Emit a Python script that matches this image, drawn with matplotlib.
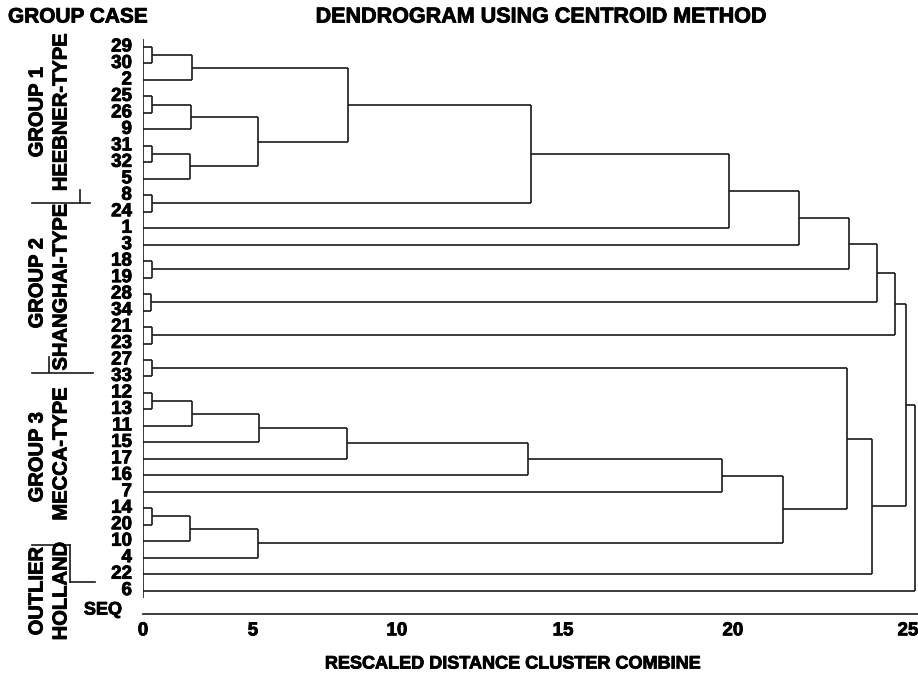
import matplotlib
matplotlib.use("Agg")
import matplotlib.pyplot as plt
import matplotlib.patheffects as pe
from matplotlib.lines import Line2D

plt.rcParams['font.family'] = ['Liberation Sans', 'DejaVu Sans']
plt.rcParams['font.weight'] = 'bold'

# case order, top to bottom
cases = ['29', '30', '2', '25', '26', '9', '31', '32', '5', '8', '24', '1', '3',
         '18', '19', '28', '34', '21', '23', '27', '33', '12', '13', '11', '15',
         '17', '16', '7', '14', '20', '10', '4', '22', '6']

# merges: (left node, right node, rescaled distance); new nodes are m0, m1, ...
merge_left = ['29', 'm0', '25', 'm2', '31', 'm4', 'm3', 'm1', '8', 'm7', 'm9',
              'm10', '18', 'm11', '28', 'm13', '21', 'm15', '27', '12', 'm19',
              'm20', 'm21', 'm22', 'm23', '14', 'm25', 'm26', 'm24', 'm18',
              'm29', 'm17', 'm31']
merge_right = ['30', '2', '26', '9', '32', '5', 'm5', 'm6', '24', 'm8', '1',
               '3', '19', 'm12', '34', 'm14', '23', 'm16', '33', '13', '11',
               '15', '17', '16', '7', '20', '10', '4', 'm27', 'm28', '22',
               'm30', '6']
merge_dist = [0.28, 1.59, 0.28, 1.55, 0.28, 1.52, 3.72, 6.64, 0.28, 12.56,
              18.98, 21.24, 0.30, 22.86, 0.26, 23.77, 0.30, 24.35, 0.30, 0.30,
              1.59, 3.76, 6.61, 12.47, 18.75, 0.28, 1.52, 3.72, 20.73, 22.80,
              23.61, 24.71, 25.0]

tick_labels = ['0', '5', '10', '15', '20', '25']
tick_pos = [0, 3.56, 8.22, 13.6, 19.1, 24.77]

W, H = 918, 673
fig = plt.figure(figsize=(W / 100, H / 100), dpi=100)

# heavier text, like the original print
heavy = [pe.withStroke(linewidth=0.6, foreground='black')]


def fx(px):
    return px / W


def fy(py):
    return 1 - py / H


ax = fig.add_axes([fx(143), fy(614), fx(918) - fx(143), fy(37) - fy(614)])
ax.set_xlim(0, 775 / 30.88)
ax.set_ylim(34.42, -0.607)

lc = '#1a1a1a'
lw = 1.2

# node positions
pos = {c: (0.0, float(i)) for i, c in enumerate(cases)}
for k, (a, b, d) in enumerate(zip(merge_left, merge_right, merge_dist)):
    xa, ya = pos[a]
    xb, yb = pos[b]
    ax.plot([xa, d], [ya, ya], color=lc, lw=lw, solid_capstyle='butt')
    ax.plot([xb, d], [yb, yb], color=lc, lw=lw, solid_capstyle='butt')
    ax.plot([d, d], [ya, yb], color=lc, lw=lw, solid_capstyle='butt')
    pos['m%d' % k] = (d, (ya + yb) / 2)

# case labels
for i, c in enumerate(cases):
    ax.text(-0.36, i, c, ha='right', va='center', fontsize=13.5,
            fontweight='bold', clip_on=False, path_effects=heavy)

ax.vlines(0, -0.5, 33.43, color=lc, lw=lw)
for s in ['top', 'right', 'left']:
    ax.spines[s].set_visible(False)
ax.spines['bottom'].set_color(lc)
ax.spines['bottom'].set_linewidth(lw)
ax.set_yticks([])
ax.set_xticks(tick_pos, tick_labels)
ax.tick_params(axis='x', length=0, pad=6, labelsize=13.5)
for t in ax.get_xticklabels():
    t.set_fontweight('bold')
    t.set_path_effects(heavy)

# titles and labels
fig.text(fx(8), fy(17), 'GROUP CASE', ha='left', va='center', fontsize=15,
         fontweight='bold', path_effects=heavy)
fig.text(fx(540), fy(17), 'DENDROGRAM USING CENTROID METHOD', ha='center',
         va='center', fontsize=15.5, fontweight='bold', path_effects=heavy)
fig.text(fx(513), fy(664), 'RESCALED DISTANCE CLUSTER COMBINE', ha='center',
         va='center', fontsize=13, fontweight='bold', path_effects=heavy)
fig.text(fx(103), fy(610), 'SEQ', ha='center', va='center', fontsize=13,
         fontweight='bold', path_effects=heavy)

# group labels
groups = [('GROUP 1', 'HEEBNER-TYPE', 112, 112),
          ('GROUP 2', 'SHANGHAI-TYPE', 283, 287),
          ('GROUP 3', 'MECCA-TYPE', 457, 454),
          ('OUTLIER', 'HOLLAND', 591, 591)]
for g1, g2, y1, y2 in groups:
    fig.text(fx(37), fy(y1), g1, rotation=90, ha='center', va='center',
             fontsize=14.5, fontweight='bold', path_effects=heavy)
    fig.text(fx(61), fy(y2), g2, rotation=90, ha='center', va='center',
             fontsize=14.5, fontweight='bold', path_effects=heavy)

# separators and bracket
segs = [([32, 90], [203, 203]), ([80, 80], [190, 203]),
        ([32, 93], [373, 373]), ([49, 49], [357, 372]),
        ([32, 70], [545, 545]), ([70, 70], [545, 582]), ([70, 95], [582, 582])]
for xs, ys in segs:
    fig.add_artist(Line2D([fx(v) for v in xs], [fy(v) for v in ys],
                          color=lc, lw=lw))

fig.savefig('out.png', dpi=100)
